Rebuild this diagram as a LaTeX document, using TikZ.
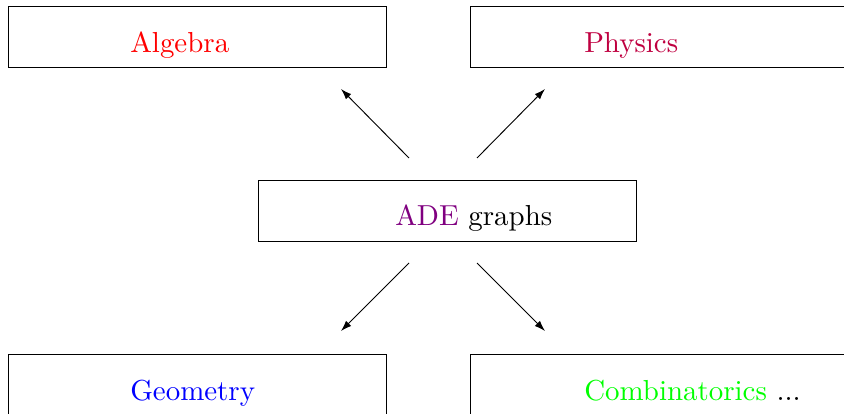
\documentclass[tikz,border=0pt]{standalone}
\usetikzlibrary{arrows.meta}
\newcommand{\biglbl}[1]{\scalebox{2.17}{#1}}
\begin{document}
\begin{tikzpicture}[x=0.75pt,y=-0.75pt,
  fieldbox/.style={draw=black,line width=0.7pt,minimum width=378*0.75pt,minimum height=61*0.75pt,inner sep=0pt,outer sep=0pt,anchor=north west},
  lbl/.style={anchor=base west,inner sep=0pt,font=\normalsize},
  link/.style={line width=0.7pt,-{Latex[length=8pt,width=5.5pt]}}]
\useasboundingbox (0,0) rectangle (844,414);
\clip (0,0) rectangle (844,414);
\node[fieldbox] (alg) at (8,6) {};
\node[fieldbox] (phy) at (470,6) {};
\node[fieldbox] (ade) at (258,180) {};
\node[fieldbox] (geo) at (8,354) {};
\node[fieldbox] (com) at (470,354) {};
\node[lbl,text=red] (talg) at (130,52) {\biglbl{Algebra}};
\node[lbl,text=purple] (tphy) at (584,52) {\biglbl{Physics}};
\node[lbl] (tade) at (395,225) {\biglbl{\textcolor{violet}{ADE} graphs}};
\node[lbl,text=blue] (tgeo) at (130,400) {\biglbl{Geometry}};
\node[lbl] (tcom) at (584,400) {\biglbl{\textcolor{green}{Combinatorics} ...}};
\coordinate (a1) at (409,158);
\coordinate (a2) at (477,158);
\coordinate (a3) at (409,263);
\coordinate (a4) at (477,263);
\coordinate (e1) at (341,89);
\coordinate (e2) at (545,89);
\coordinate (e3) at (341,331);
\coordinate (e4) at (545,331);
\draw[link] (a1) -- (e1);
\draw[link] (a2) -- (e2);
\draw[link] (a3) -- (e3);
\draw[link] (a4) -- (e4);
\end{tikzpicture}
\end{document}
